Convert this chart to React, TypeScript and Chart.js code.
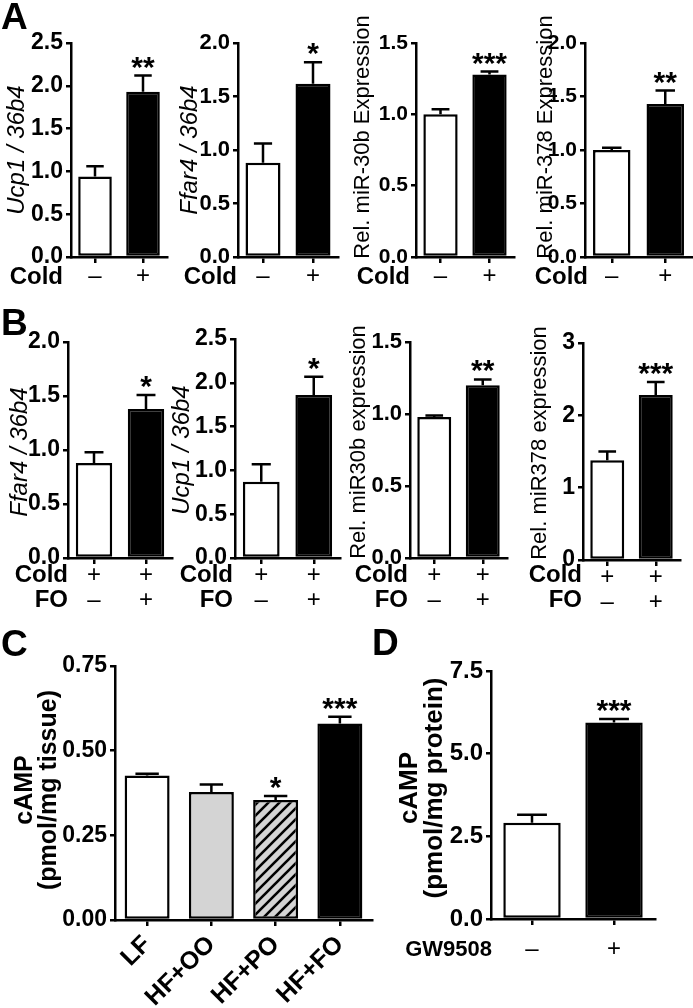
import React, { useEffect, useRef } from "react";
import { Chart, registerables } from "chart.js";

Chart.register(...registerables);

const FONT = '"Liberation Sans", Arial, Helvetica, sans-serif';

// ---------------- data ----------------
const coldCategories = ["\u2013", "+"];
const coldFoCategories = [["+", "\u2013"], ["+", "+"]];
const dietCategories = ["LF", "HF+OO", "HF+PO", "HF+FO"];
const gwCategories = ["\u2013", "+"];

const coldRows = ["Cold"];
const coldFoRows = ["Cold", "FO"];
const gwRows = ["GW9508"];

const twoFills = ["#ffffff", "#000000"];
const dietFills = ["#ffffff", "#d4d4d4", "hatch", "#000000"];

// Panel A
const aUcp1Mean = [0.94, 1.93];
const aUcp1Sem = [0.12, 0.19];
const aUcp1Stars = ["", "**"];
const aUcp1Axis = [0, 2.5, 0.5];

const aFfar4Mean = [0.88, 1.62];
const aFfar4Sem = [0.18, 0.2];
const aFfar4Stars = ["", "*"];
const aFfar4Axis = [0, 2.0, 0.5];

const aMir30bMean = [1.0, 1.28];
const aMir30bSem = [0.035, 0.02];
const aMir30bStars = ["", "***"];
const aMir30bAxis = [0, 1.5, 0.5];

const aMir378Mean = [1.0, 1.43];
const aMir378Sem = [0.02, 0.125];
const aMir378Stars = ["", "**"];
const aMir378Axis = [0, 2.0, 0.5];

// Panel B
const bFfar4Mean = [0.88, 1.38];
const bFfar4Sem = [0.1, 0.13];
const bFfar4Stars = ["", "*"];
const bFfar4Axis = [0, 2.0, 0.5];

const bUcp1Mean = [0.87, 1.86];
const bUcp1Sem = [0.2, 0.21];
const bUcp1Stars = ["", "*"];
const bUcp1Axis = [0, 2.5, 0.5];

const bMir30bMean = [0.98, 1.2];
const bMir30bSem = [0.01, 0.04];
const bMir30bStars = ["", "**"];
const bMir30bAxis = [0, 1.5, 0.5];

const bMir378Mean = [1.38, 2.28];
const bMir378Sem = [0.12, 0.18];
const bMir378Stars = ["", "***"];
const bMir378Axis = [0, 3, 1];

// Panel C
const cCampMean = [0.427, 0.378, 0.354, 0.58];
const cCampSem = [0.005, 0.022, 0.012, 0.02];
const cCampStars = ["", "", "*", "***"];
const cCampAxis = [0, 0.75, 0.25];

// Panel D
const dCampMean = [2.91, 5.94];
const dCampSem = [0.24, 0.11];
const dCampStars = ["", "***"];
const dCampAxis = [0, 7.5, 2.5];

// ---------------- layout ----------------
const italicTitle = `italic 24px ${FONT}`;
const mirTitle = `22px ${FONT}`;
const campTitleC = `bold 25px ${FONT}`;
const campTitleD = `bold 26px ${FONT}`;

const pmX = { size: 24, weight: "normal", lineHeight: 25 / 24 };

const panels: any[] = [
  {
    id: "A1", box: { left: 0, top: 0, width: 172, height: 300 }, axis: { left: 71, top: 43, right: 167, bottom: 257 },
    categories: coldCategories, mean: aUcp1Mean, sem: aUcp1Sem, stars: aUcp1Stars, fills: twoFills, yAxis: aUcp1Axis, decimals: 1, yFont: 23,
    title: ["Ucp1 / 36b4"], titleFont: italicTitle, titleX: 17, titleY: 150, titleLH: 24,
    rows: coldRows, rowFont: `bold 24px ${FONT}`, rowRight: 63, rowY: [277], xFont: pmX, xPad: 1, xRot: 0,
    letter: { text: "A", x: 1, y: 29 },
  },
  {
    id: "A2", box: { left: 172, top: 0, width: 173, height: 300 }, axis: { left: 238, top: 43, right: 338, bottom: 257 },
    categories: coldCategories, mean: aFfar4Mean, sem: aFfar4Sem, stars: aFfar4Stars, fills: twoFills, yAxis: aFfar4Axis, decimals: 1, yFont: 22,
    title: ["Ffar4 / 36b4"], titleFont: italicTitle, titleX: 190, titleY: 150, titleLH: 24,
    rows: coldRows, rowFont: `bold 24px ${FONT}`, rowRight: 237, rowY: [277], xFont: pmX, xPad: 1, xRot: 0,
  },
  {
    id: "A3", box: { left: 345, top: 0, width: 177, height: 300 }, axis: { left: 416, top: 43, right: 514, bottom: 257 },
    categories: coldCategories, mean: aMir30bMean, sem: aMir30bSem, stars: aMir30bStars, fills: twoFills, yAxis: aMir30bAxis, decimals: 1, yFont: 21,
    title: ["Rel. miR-30b Expression"], titleFont: mirTitle, titleX: 363, titleY: 137, titleLH: 22,
    rows: coldRows, rowFont: `bold 24px ${FONT}`, rowRight: 410, rowY: [277], xFont: pmX, xPad: 1, xRot: 0,
  },
  {
    id: "A4", box: { left: 522, top: 0, width: 171, height: 300 }, axis: { left: 585, top: 43, right: 692, bottom: 257 },
    categories: coldCategories, mean: aMir378Mean, sem: aMir378Sem, stars: aMir378Stars, fills: twoFills, yAxis: aMir378Axis, decimals: 1, yFont: 21,
    title: ["Rel. miR-378 Expression"], titleFont: mirTitle, titleX: 546, titleY: 137, titleLH: 22,
    rows: coldRows, rowFont: `bold 24px ${FONT}`, rowRight: 588, rowY: [277], xFont: pmX, xPad: 1, xRot: 0,
  },
  {
    id: "B1", box: { left: 0, top: 300, width: 176, height: 320 }, axis: { left: 68, top: 342, right: 172, bottom: 558 },
    categories: coldFoCategories, mean: bFfar4Mean, sem: bFfar4Sem, stars: bFfar4Stars, fills: twoFills, yAxis: bFfar4Axis, decimals: 1, yFont: 23,
    title: ["Ffar4 / 36b4"], titleFont: italicTitle, titleX: 20, titleY: 452, titleLH: 24,
    rows: coldFoRows, rowFont: `bold 24px ${FONT}`, rowRight: 68, rowY: [575, 600], xFont: pmX, xPad: -1, xRot: 0,
    letter: { text: "B", x: 1, y: 335 },
  },
  {
    id: "B2", box: { left: 166, top: 300, width: 181, height: 320 }, axis: { left: 235, top: 339, right: 340, bottom: 558 },
    categories: coldFoCategories, mean: bUcp1Mean, sem: bUcp1Sem, stars: bUcp1Stars, fills: twoFills, yAxis: bUcp1Axis, decimals: 1, yFont: 23,
    title: ["Ucp1 / 36b4"], titleFont: italicTitle, titleX: 182, titleY: 450, titleLH: 24,
    rows: coldFoRows, rowFont: `bold 24px ${FONT}`, rowRight: 233, rowY: [575, 600], xFont: pmX, xPad: -1, xRot: 0,
  },
  {
    id: "B3", box: { left: 345, top: 300, width: 167, height: 320 }, axis: { left: 410, top: 342, right: 507, bottom: 558 },
    categories: coldFoCategories, mean: bMir30bMean, sem: bMir30bSem, stars: bMir30bStars, fills: twoFills, yAxis: bMir30bAxis, decimals: 1, yFont: 22,
    title: ["Rel. miR30b expression"], titleFont: mirTitle, titleX: 359, titleY: 442, titleLH: 22,
    rows: coldFoRows, rowFont: `bold 24px ${FONT}`, rowRight: 408, rowY: [575, 600], xFont: pmX, xPad: -1, xRot: 0,
  },
  {
    id: "B4", box: { left: 512, top: 300, width: 181, height: 320 }, axis: { left: 583, top: 343, right: 680, bottom: 560 },
    categories: coldFoCategories, mean: bMir378Mean, sem: bMir378Sem, stars: bMir378Stars, fills: twoFills, yAxis: bMir378Axis, decimals: 0, yFont: 23,
    title: ["Rel. miR378 expression"], titleFont: mirTitle, titleX: 540, titleY: 443, titleLH: 22,
    rows: coldFoRows, rowFont: `bold 24px ${FONT}`, rowRight: 582, rowY: [575, 600], xFont: pmX, xPad: -1, xRot: 0,
  },
  {
    id: "C", box: { left: 0, top: 620, width: 380, height: 388 }, axis: { left: 115, top: 666, right: 372, bottom: 920 },
    categories: dietCategories, mean: cCampMean, sem: cCampSem, stars: cCampStars, fills: dietFills, yAxis: cCampAxis, decimals: 2, yFont: 23,
    title: ["cAMP", "(pmol/mg tissue)"], titleFont: campTitleC, titleX: 25, titleY: 790, titleLH: 24,
    rows: [], rowFont: `bold 24px ${FONT}`, rowRight: 0, rowY: [],
    xFont: { size: 25, weight: "bold", lineHeight: 1.2 }, xPad: 4, xRot: 45,
    letter: { text: "C", x: 1, y: 656 },
  },
  {
    id: "D", box: { left: 365, top: 620, width: 328, height: 388 }, axis: { left: 491, top: 671, right: 655, bottom: 919 },
    categories: gwCategories, mean: dCampMean, sem: dCampSem, stars: dCampStars, fills: twoFills, yAxis: dCampAxis, decimals: 1, yFont: 24,
    title: ["cAMP", "(pmol/mg protein)"], titleFont: campTitleD, titleX: 410, titleY: 788, titleLH: 25,
    rows: gwRows, rowFont: `bold 22px ${FONT}`, rowRight: 492, rowY: [950], xFont: pmX, xPad: 12, xRot: 0,
    letter: { text: "D", x: 372, y: 655 },
  },
];

function makeHatch(): CanvasPattern | string {
  const s = 11;
  const c = document.createElement("canvas");
  c.width = s;
  c.height = s;
  const g = c.getContext("2d");
  if (!g) return "#d4d4d4";
  g.fillStyle = "#d4d4d4";
  g.fillRect(0, 0, s, s);
  g.strokeStyle = "#000";
  g.lineWidth = 2.6;
  g.beginPath();
  g.moveTo(0, s);
  g.lineTo(s, 0);
  g.moveTo(-s / 2, s / 2);
  g.lineTo(s / 2, -s / 2);
  g.moveTo(s / 2, s * 1.5);
  g.lineTo(s * 1.5, s / 2);
  g.stroke();
  return g.createPattern(c, "repeat") || "#d4d4d4";
}

function PanelChart({ cfg }: { cfg: any }) {
  const ref = useRef<HTMLCanvasElement | null>(null);
  useEffect(() => {
    const canvas = ref.current;
    if (!canvas) return;
    const { box, axis } = cfg;
    const annot = {
      id: "annot" + cfg.id,
      afterDatasetsDraw(chart: any) {
        const ctx = chart.ctx;
        const meta = chart.getDatasetMeta(0);
        const ys = chart.scales.y;
        ctx.save();
        meta.data.forEach((el: any, i: number) => {
          const top = ys.getPixelForValue(cfg.mean[i] + cfg.sem[i]);
          const w = el.width;
          ctx.strokeStyle = "#000";
          ctx.lineWidth = 2.5;
          ctx.beginPath();
          ctx.moveTo(el.x, el.y);
          ctx.lineTo(el.x, top);
          ctx.moveTo(el.x - w * 0.26, top);
          ctx.lineTo(el.x + w * 0.26, top);
          ctx.stroke();
          const s = cfg.stars[i];
          if (s) {
            ctx.font = `bold 30px ${FONT}`;
            ctx.fillStyle = "#000";
            ctx.textAlign = "center";
            ctx.textBaseline = "alphabetic";
            const m = ctx.measureText(s);
            const cy = top - 13;
            const base = cy + (m.actualBoundingBoxAscent - m.actualBoundingBoxDescent) / 2;
            ctx.fillText(s, el.x, base);
          }
        });
        ctx.restore();
      },
      afterDraw(chart: any) {
        const ctx = chart.ctx;
        ctx.save();
        ctx.fillStyle = "#000";
        ctx.save();
        ctx.translate(cfg.titleX - box.left, cfg.titleY - box.top);
        ctx.rotate(-Math.PI / 2);
        ctx.font = cfg.titleFont;
        ctx.textAlign = "center";
        ctx.textBaseline = "middle";
        cfg.title.forEach((line: string, i: number) => ctx.fillText(line, 0, i * cfg.titleLH));
        ctx.restore();
        ctx.font = cfg.rowFont;
        ctx.textAlign = "right";
        ctx.textBaseline = "middle";
        cfg.rows.forEach((r: string, i: number) => ctx.fillText(r, cfg.rowRight - box.left, cfg.rowY[i] - box.top));
        if (cfg.letter) {
          ctx.font = `bold 37px ${FONT}`;
          ctx.textAlign = "left";
          ctx.textBaseline = "alphabetic";
          ctx.fillText(cfg.letter.text, cfg.letter.x - box.left, cfg.letter.y - box.top);
        }
        ctx.restore();
      },
    };

    const chart = new Chart(canvas, {
      type: "bar",
      data: {
        labels: cfg.categories,
        datasets: [
          {
            data: cfg.mean,
            backgroundColor: cfg.fills.map((f: string) => (f === "hatch" ? makeHatch() : f)),
            borderColor: "#000",
            borderWidth: 2.5,
            borderSkipped: false,
            categoryPercentage: 1,
            barPercentage: 0.7,
          } as any,
        ],
      },
      options: {
        animation: false,
        responsive: false,
        maintainAspectRatio: false,
        devicePixelRatio: 1,
        events: [],
        layout: {
          padding: {
            left: 0,
            top: axis.top - box.top,
            right: box.left + box.width - axis.right,
            bottom: 0,
          },
        },
        plugins: { legend: { display: false }, tooltip: { enabled: false }, title: { display: false } },
        scales: {
          x: {
            type: "category",
            offset: true,
            grid: { offset: false, drawOnChartArea: false, drawTicks: true, tickLength: 6, lineWidth: 2.5, color: "#000" },
            border: { display: true, color: "#000", width: 2.5 },
            ticks: {
              color: "#000",
              font: { family: FONT, size: cfg.xFont.size, weight: cfg.xFont.weight, lineHeight: cfg.xFont.lineHeight },
              padding: cfg.xPad,
              maxRotation: cfg.xRot,
              minRotation: cfg.xRot,
              autoSkip: false,
            },
            afterFit: (s: any) => {
              s.height = box.top + box.height - axis.bottom;
            },
          },
          y: {
            type: "linear",
            min: cfg.yAxis[0],
            max: cfg.yAxis[1],
            grid: { drawOnChartArea: false, drawTicks: true, tickLength: 5, lineWidth: 2.5, color: "#000" },
            border: { display: true, color: "#000", width: 2.5 },
            ticks: {
              stepSize: cfg.yAxis[2],
              color: "#000",
              font: { family: FONT, size: cfg.yFont, weight: "bold" },
              padding: 3,
              callback: (v: any) => Number(v).toFixed(cfg.decimals),
            },
            afterFit: (s: any) => {
              s.width = axis.left - box.left;
            },
          },
        },
      } as any,
      plugins: [annot],
    });
    return () => chart.destroy();
  }, [cfg]);

  return (
    <canvas
      ref={ref}
      width={cfg.box.width}
      height={cfg.box.height}
      style={{ position: "absolute", left: cfg.box.left, top: cfg.box.top, width: cfg.box.width, height: cfg.box.height }}
    />
  );
}

export default function App() {
  return (
    <div style={{ position: "absolute", left: 0, top: 0, width: 693, height: 1008, background: "#ffffff", overflow: "hidden" }}>
      {panels.map((p) => (
        <PanelChart key={p.id} cfg={p} />
      ))}
    </div>
  );
}
